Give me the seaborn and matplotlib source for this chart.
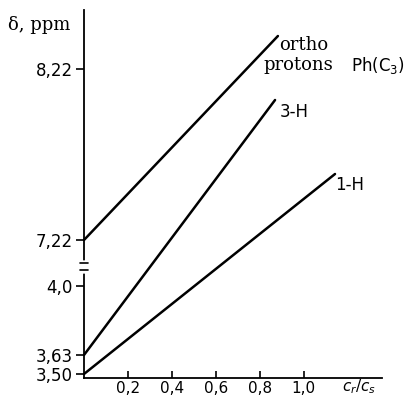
import pandas as pd
import matplotlib
matplotlib.use("Agg")
import matplotlib.pyplot as plt
import seaborn as sns

sns.set_style("ticks")
plt.rcParams["text.color"] = "black"

# end points of the three lines
# x = c_r/c_s, y = height on the drawn (broken) shift axis
ortho_x = [0.0, 0.883]
ortho_y = [134, 338]
h3_x = [0.0, 0.87]
h3_y = [19, 274]
h1_x = [0.0, 1.143]
h1_y = [0, 200]

x_ticks = [0.2, 0.4, 0.6, 0.8, 1.0]
x_tick_labels = ["0,2", "0,4", "0,6", "0,8", "1,0"]
y_ticks = [0, 19, 88, 134, 305]
y_tick_labels = ["3,50", "3,63", "4,0", "7,22", "8,22"]

df = pd.concat([
    pd.DataFrame({"x": ortho_x, "y": ortho_y, "line": "ortho"}),
    pd.DataFrame({"x": h3_x, "y": h3_y, "line": "3-H"}),
    pd.DataFrame({"x": h1_x, "y": h1_y, "line": "1-H"}),
])

fig = plt.figure(figsize=(4.1, 3.99), dpi=100)
ax = fig.add_axes([84 / 410, 21 / 399, 298 / 410, 368 / 399])

sns.lineplot(data=df, x="x", y="y", hue="line", palette=["black"] * 3,
             linewidth=1.8, legend=False, ax=ax, clip_on=False)

ax.set_xlim(0, 1.357)
ax.set_ylim(-4, 364)
sns.despine(ax=ax)
for s in ["left", "bottom"]:
    ax.spines[s].set_color("black")
    ax.spines[s].set_linewidth(1.3)

ax.set_xticks(x_ticks)
ax.set_xticklabels(x_tick_labels)
ax.set_yticks(y_ticks)
ax.set_yticklabels(y_tick_labels)
ax.tick_params(axis="x", direction="in", length=5, width=1.2, pad=2,
               labelsize=11, colors="black")
ax.tick_params(axis="y", direction="out", length=6, width=1.2, pad=2,
               labelsize=12, colors="black")
ax.set_xlabel("")
ax.set_ylabel("")

# axis break
ax.plot([0, 0], [103, 111], color="white", lw=4, clip_on=False, zorder=5)
for yb in [104, 111]:
    ax.plot([-0.02, 0.02], [yb, yb], color="black", lw=1.2,
            clip_on=False, zorder=6)

# line labels
serif = "DejaVu Serif"
ax.text(0.888, 329, "ortho", family=serif, fontsize=13, va="center")
ax.text(0.815, 309, "protons", family=serif, fontsize=13, va="center")
ax.text(1.216, 309, "Ph(C$_3$)", fontsize=12, va="center")
ax.text(0.893, 262, "3-H", fontsize=12, va="center")
ax.text(1.143, 189, "1-H", fontsize=12, va="center")

fig.text(8 / 410, 1 - 25 / 399, "δ, ppm", family=serif, fontsize=13, va="center")
fig.text(342 / 410, 1 - 387 / 399, "$c_r/c_s$", fontsize=11, va="center")

fig.savefig("out.png", dpi=100)
